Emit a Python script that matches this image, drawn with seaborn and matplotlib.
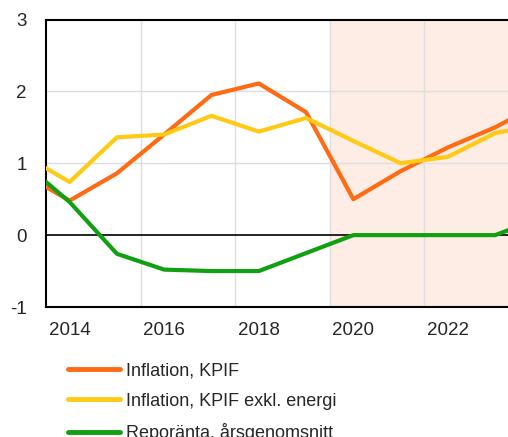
import numpy as np
import pandas as pd
import seaborn as sns
import matplotlib.pyplot as plt

# yearly values
years = [2013, 2014, 2015, 2016, 2017, 2018, 2019, 2020, 2021, 2022, 2023, 2024]
kpif = [0.86, 0.48, 0.86, 1.40, 1.95, 2.11, 1.71, 0.50, 0.89, 1.22, 1.50, 1.85]
kpif_ex_energy = [1.12, 0.74, 1.36, 1.40, 1.66, 1.44, 1.63, 1.31, 1.00, 1.09, 1.42, 1.55]
repo = [1.02, 0.46, -0.26, -0.48, -0.50, -0.50, -0.25, 0.0, 0.0, 0.0, 0.0, 0.25]

labels = ['Inflation, KPIF', 'Inflation, KPIF exkl. energi', 'Reporänta, årsgenomsnitt']
colors = ['#FF6A13', '#FFC914', '#12A012']

df = pd.DataFrame({
    'year': years * 3,
    'value': kpif + kpif_ex_energy + repo,
    'series': [labels[0]] * len(years) + [labels[1]] * len(years) + [labels[2]] * len(years),
})

sns.set_style('white')
plt.rcParams['font.family'] = ['Liberation Sans', 'DejaVu Sans']
plt.rcParams['axes.unicode_minus'] = False

fig = plt.figure(figsize=(5.08, 4.37), dpi=100)
ax = fig.add_axes([46 / 508, 130 / 437, 462 / 508, 287.5 / 437])

# forecast period shading
ax.axvspan(2019.5, 2025, color='#FDEDE4', zorder=0, lw=0)

sns.lineplot(data=df, x='year', y='value', hue='series', palette=colors,
             linewidth=3, ax=ax, legend=False, zorder=3)

ax.axhline(0, color='black', linewidth=1.2, zorder=2)

ax.set_xlim(2013.5, 2023.27)
ax.set_ylim(-1, 3)
ax.set_yticks([-1, 0, 1, 2, 3])
ax.set_xticks([2014, 2016, 2018, 2020, 2022])
ax.set_xticks([2015.5, 2017.5, 2019.5, 2021.5], minor=True)
ax.grid(False)
ax.grid(True, which='minor', axis='x', color='#dedede', linewidth=1, zorder=1)
for yv in [1, 2]:
    ax.axhline(yv, color='#dedede', linewidth=1, zorder=1)
ax.set_axisbelow(True)

ax.tick_params(axis='both', which='both', length=0, labelsize=13.5)
ax.tick_params(axis='y', pad=14)
ax.tick_params(axis='x', pad=11)
ax.set_xlabel('')
ax.set_ylabel('')

for side in ['left', 'bottom', 'top']:
    ax.spines[side].set_color('black')
    ax.spines[side].set_linewidth(1.5)
ax.spines['right'].set_visible(False)

handles = [plt.Line2D([], [], color=c, linewidth=3.5) for c in colors]
fig.legend(handles, labels, loc='upper left', bbox_to_anchor=(68 / 508, 1 - 362 / 437),
           frameon=False, fontsize=13, handlelength=2.9, handletextpad=0.3,
           labelspacing=0.75, borderpad=0, borderaxespad=0)

fig.savefig('out.png', dpi=100)
